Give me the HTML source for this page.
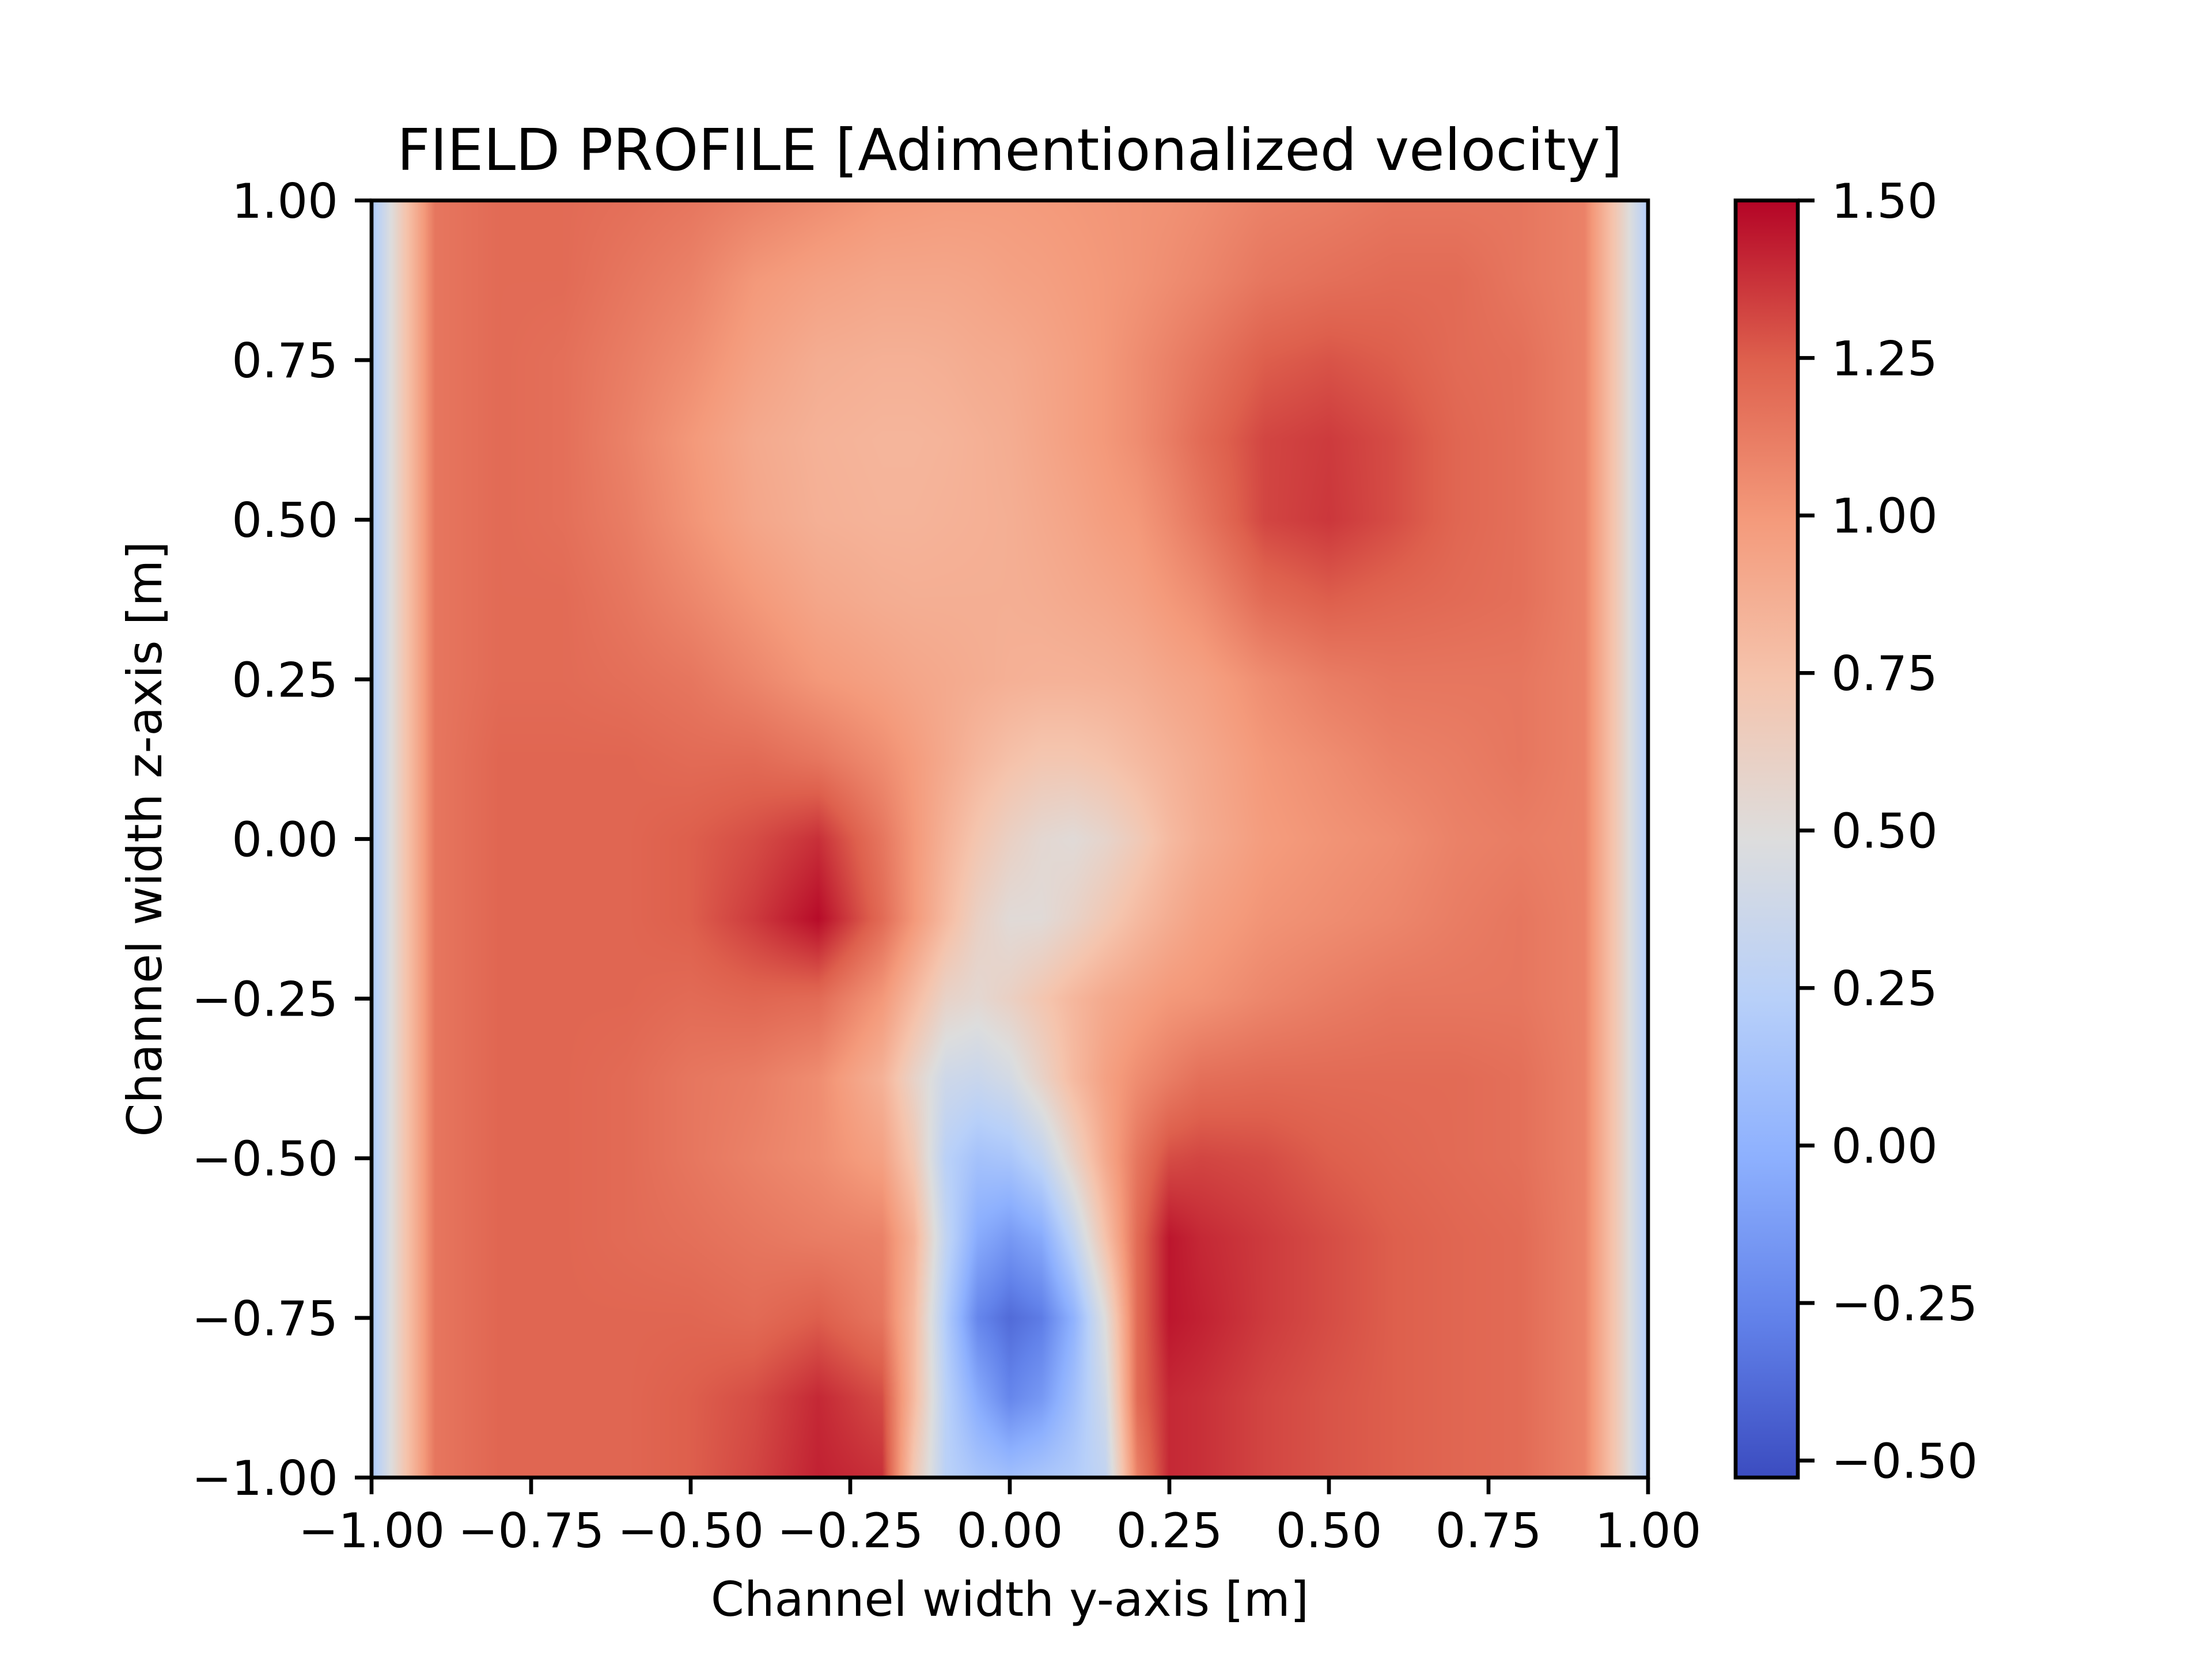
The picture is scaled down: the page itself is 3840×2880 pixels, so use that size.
<!DOCTYPE html>
<html><head><meta charset="utf-8">
<style>
html,body{margin:0;padding:0;background:#fff;}
#wrap{position:relative;width:3840px;height:2880px;}
svg{position:absolute;left:0;top:0;}
canvas{position:absolute;}
text{font-family:"DejaVu Sans","Liberation Sans",sans-serif;fill:#000;}
</style></head>
<body>
<div id="wrap">
<canvas id="heat"></canvas>
<svg id="svg" width="3840" height="2880"></svg>
</div>
<script>
// ---- data ----
const yCoords = [-1,-0.95,-0.9,-0.8,-0.7,-0.6,-0.5,-0.4,-0.3,-0.2,-0.15,-0.1,-0.05,0,0.05,0.1,0.15,0.2,0.25,0.3,0.4,0.5,0.6,0.7,0.8,0.9,0.95,1];
const zCoords = [1,0.875,0.75,0.625,0.5,0.375,0.25,0.125,0,-0.125,-0.25,-0.375,-0.5,-0.625,-0.75,-0.875,-1];
const velocity = [
[0.15,0.7,1.15,1.2,1.2,1.18,1.15,1.1,1.05,1.0,0.99,0.98,0.98,0.98,0.99,1.0,1.01,1.02,1.03,1.05,1.1,1.12,1.15,1.15,1.15,1.1,0.7,0.2],
[0.15,0.7,1.15,1.2,1.2,1.15,1.1,1.0,0.95,0.92,0.92,0.92,0.93,0.95,0.96,0.98,1.0,1.02,1.05,1.08,1.15,1.18,1.2,1.2,1.15,1.1,0.7,0.2],
[0.15,0.7,1.15,1.2,1.18,1.12,1.05,0.95,0.88,0.86,0.86,0.87,0.89,0.9,0.93,0.96,1.0,1.05,1.1,1.15,1.25,1.28,1.25,1.2,1.18,1.1,0.7,0.2],
[0.15,0.7,1.15,1.2,1.18,1.1,1.0,0.9,0.85,0.83,0.83,0.84,0.86,0.88,0.92,0.96,1.0,1.05,1.12,1.2,1.32,1.35,1.3,1.22,1.18,1.1,0.7,0.2],
[0.15,0.7,1.15,1.2,1.18,1.12,1.02,0.92,0.86,0.84,0.84,0.85,0.86,0.87,0.9,0.93,0.97,1.0,1.07,1.15,1.32,1.36,1.3,1.22,1.18,1.1,0.7,0.2],
[0.15,0.7,1.15,1.2,1.2,1.15,1.08,1.0,0.92,0.88,0.87,0.87,0.87,0.87,0.88,0.9,0.92,0.95,1.0,1.05,1.2,1.25,1.22,1.2,1.18,1.1,0.7,0.2],
[0.15,0.7,1.15,1.2,1.2,1.18,1.15,1.08,1.0,0.95,0.92,0.9,0.88,0.86,0.85,0.85,0.86,0.88,0.92,0.95,1.05,1.12,1.15,1.15,1.15,1.1,0.7,0.2],
[0.15,0.7,1.15,1.22,1.22,1.22,1.2,1.2,1.15,1.05,0.98,0.9,0.82,0.76,0.72,0.72,0.75,0.8,0.85,0.9,1.0,1.05,1.1,1.12,1.15,1.1,0.7,0.2],
[0.15,0.7,1.15,1.22,1.22,1.22,1.25,1.3,1.38,1.15,1.0,0.85,0.72,0.62,0.55,0.52,0.58,0.68,0.8,0.88,0.98,1.02,1.05,1.1,1.12,1.1,0.7,0.2],
[0.15,0.7,1.15,1.22,1.22,1.22,1.25,1.35,1.48,1.2,1.0,0.8,0.62,0.52,0.52,0.6,0.7,0.8,0.88,0.95,1.02,1.05,1.08,1.12,1.15,1.1,0.7,0.2],
[0.15,0.7,1.15,1.22,1.22,1.22,1.2,1.22,1.2,1.0,0.8,0.6,0.55,0.62,0.72,0.82,0.9,0.95,1.0,1.02,1.08,1.12,1.15,1.15,1.15,1.1,0.7,0.2],
[0.15,0.7,1.15,1.22,1.22,1.2,1.15,1.12,1.05,0.85,0.6,0.38,0.35,0.42,0.6,0.8,0.95,1.05,1.12,1.18,1.2,1.2,1.2,1.2,1.18,1.1,0.7,0.2],
[0.15,0.7,1.15,1.22,1.22,1.2,1.15,1.1,1.05,0.95,0.7,0.25,0.12,0.15,0.3,0.6,0.9,1.15,1.3,1.32,1.3,1.25,1.22,1.2,1.18,1.1,0.7,0.2],
[0.15,0.7,1.15,1.22,1.22,1.2,1.18,1.15,1.12,1.1,0.85,0.3,-0.05,-0.15,-0.05,0.3,0.75,1.2,1.45,1.4,1.35,1.3,1.25,1.22,1.2,1.1,0.7,0.2],
[0.15,0.7,1.15,1.22,1.22,1.22,1.22,1.2,1.25,1.15,0.8,0.2,-0.25,-0.38,-0.3,0.0,0.5,1.2,1.45,1.42,1.35,1.3,1.25,1.22,1.2,1.1,0.7,0.2],
[0.15,0.7,1.15,1.22,1.22,1.22,1.25,1.3,1.4,1.3,0.8,0.25,-0.05,-0.25,-0.15,0.1,0.4,1.2,1.4,1.38,1.32,1.28,1.25,1.22,1.2,1.1,0.7,0.2],
[0.15,0.7,1.15,1.22,1.22,1.22,1.25,1.32,1.42,1.38,0.7,0.25,0.15,0.1,0.15,0.2,0.3,1.1,1.4,1.38,1.32,1.28,1.25,1.22,1.2,1.1,0.7,0.2]
];
const xTicks = [-1,-0.75,-0.5,-0.25,0,0.25,0.5,0.75,1];
const xTickLabels = ["−1.00","−0.75","−0.50","−0.25","0.00","0.25","0.50","0.75","1.00"];
const yTicks = [1,0.75,0.5,0.25,0,-0.25,-0.5,-0.75,-1];
const yTickLabels = ["1.00","0.75","0.50","0.25","0.00","−0.25","−0.50","−0.75","−1.00"];
const cbTicks = [1.5,1.25,1,0.75,0.5,0.25,0,-0.25,-0.5];
const cbTickLabels = ["1.50","1.25","1.00","0.75","0.50","0.25","0.00","−0.25","−0.50"];
const vmin = -0.527, vmax = 1.5;

// ---- layout ----
const PL=645, PR=2861, PT=348, PB=2565;
const CBL=3013, CBR=3121;
const sx = v => PL + (v+1)/2*(PR-PL);
const sy = v => PT + (1-v)/2*(PB-PT);
const cy = v => PB - (v-vmin)/(vmax-vmin)*(PB-PT);

const cmap = [[59,76,192],[98,130,234],[141,176,254],[184,208,249],[221,221,221],[245,196,173],[244,154,123],[222,96,77],[180,4,38]];
function color(v){
  let t=(v-vmin)/(vmax-vmin); t=Math.max(0,Math.min(1,t));
  const f=t*8, i=Math.min(7,Math.floor(f)), r=f-i;
  const a=cmap[i], b=cmap[i+1];
  return [a[0]+(b[0]-a[0])*r, a[1]+(b[1]-a[1])*r, a[2]+(b[2]-a[2])*r];
}
function locate(arr,v,desc){
  const n=arr.length;
  for(let i=0;i<n-1;i++){
    const a=arr[i], b=arr[i+1];
    if(desc ? (v<=a && v>=b) : (v>=a && v<=b)) return [i,(v-a)/(b-a)];
  }
  return desc ? (v>arr[0]?[0,0]:[n-2,1]) : (v<arr[0]?[0,0]:[n-2,1]);
}
const W=PR-PL, H=PB-PT;
const cv=document.getElementById('heat');
cv.width=W; cv.height=H; cv.style.left=PL+'px'; cv.style.top=PT+'px';
const ctx=cv.getContext('2d');
const img=ctx.createImageData(W,H);
const colIdx=[];
for(let px=0;px<W;px++) colIdx.push(locate(yCoords,-1+2*(px+0.5)/W,false));
for(let py=0;py<H;py++){
  const [j,w]=locate(zCoords,1-2*(py+0.5)/H,true);
  const r0=velocity[j], r1=velocity[j+1];
  for(let px=0;px<W;px++){
    const [i,u]=colIdx[px];
    const v=(r0[i]*(1-u)+r0[i+1]*u)*(1-w)+(r1[i]*(1-u)+r1[i+1]*u)*w;
    const c=color(v);
    const k=(py*W+px)*4;
    img.data[k]=c[0];img.data[k+1]=c[1];img.data[k+2]=c[2];img.data[k+3]=255;
  }
}
ctx.putImageData(img,0,0);

const NS='http://www.w3.org/2000/svg';
const svg=document.getElementById('svg');
function el(tag,attrs,parent){const e=document.createElementNS(NS,tag);for(const k in attrs)e.setAttribute(k,attrs[k]);(parent||svg).appendChild(e);return e;}

const defs=el('defs',{});
const lg=el('linearGradient',{id:'cw',x1:'0',y1:'1',x2:'0',y2:'0'},defs);
cmap.forEach((c,i)=>{el('stop',{offset:(i/8),'stop-color':`rgb(${c[0]},${c[1]},${c[2]})`},lg);});
const cb=el('rect',{x:CBL,y:PT,width:CBR-CBL,height:PB-PT,fill:'url(#cw)',stroke:'#000','stroke-width':6.7});



const frame=el('rect',{x:PL,y:PT,width:PR-PL,height:PB-PT,fill:'none',stroke:'#000','stroke-width':6.7});



const FS=83;
xTicks.forEach((v,i)=>{
  const x=sx(v);
  const t=el('line',{x1:x,y1:PB,x2:x,y2:PB+29,stroke:'#000','stroke-width':6.7});
  
  
  const l=el('text',{x:x,y:PB+58+FS*0.76,'font-size':FS,'text-anchor':'middle'});
  l.textContent=xTickLabels[i];
  
  
});
yTicks.forEach((v,i)=>{
  const y=sy(v);
  const t=el('line',{x1:PL-29,y1:y,x2:PL,y2:y,stroke:'#000','stroke-width':6.7});
  
  
  const l=el('text',{x:PL-58,y:y+FS*0.36,'font-size':FS,'text-anchor':'end'});
  l.textContent=yTickLabels[i];
  
  
});
cbTicks.forEach((v,i)=>{
  const y=cy(v);
  const t=el('line',{x1:CBR,y1:y,x2:CBR+29,y2:y,stroke:'#000','stroke-width':6.7});
  
  
  const l=el('text',{x:CBR+58,y:y+FS*0.36,'font-size':FS,'text-anchor':'start'});
  l.textContent=cbTickLabels[i];
  
  
});
const title=el('text',{x:(PL+PR)/2,y:295,'font-size':100,'text-anchor':'middle'});
title.textContent='FIELD PROFILE [Adimentionalized velocity]';


const xl=el('text',{x:(PL+PR)/2,y:2805,'font-size':FS,'text-anchor':'middle'});
xl.textContent='Channel width y-axis [m]';


const yl=el('text',{x:0,y:0,'font-size':FS,'text-anchor':'middle',transform:`translate(280,${(PT+PB)/2}) rotate(-90)`});
yl.textContent='Channel width z-axis [m]';


</script>
</body></html>
